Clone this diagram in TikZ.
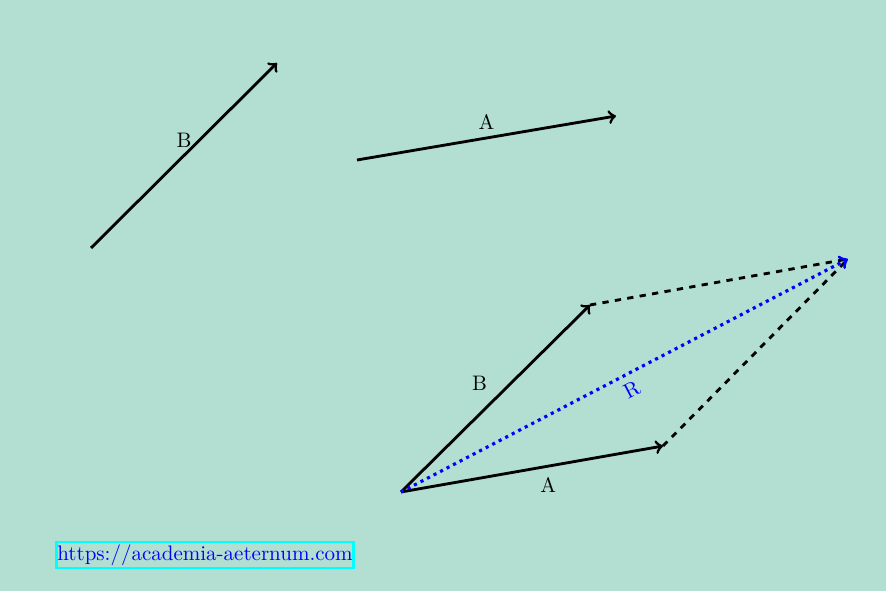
\documentclass[tikz,border=0pt]{standalone}
\begin{document}
\begin{tikzpicture}[x=0.4763pt,y=-0.4763pt,
  vec/.style={->,line width=1.35pt,black},
  dashline/.style={dashed,line width=1.35pt,black},
  res/.style={->,dotted,line width=1.5pt,blue}]
\definecolor{bgc}{RGB}{178,223,210}
\definecolor{boxcyan}{RGB}{0,255,255}
\definecolor{urlblue}{RGB}{0,0,255}
\fill[bgc] (0,0) rectangle (886,591);
\useasboundingbox (0,0) rectangle (886,591);
% top vectors
\coordinate (b0) at (91,248);
\coordinate (b1) at (277,63);
\coordinate (a0) at (357,160);
\coordinate (a1) at (616,116);
\draw[vec] (b0) -- node[above]{B} (b1);
\draw[vec] (a0) -- node[above]{A} (a1);
% parallelogram
\coordinate (o) at (401,492);
\coordinate (bb) at (590,305);
\coordinate (aa) at (663,446);
\coordinate (rr) at (848,259);
\draw[dashline] (bb) -- (rr);
\draw[dashline] (aa) -- (rr);
\draw[vec] (o) -- node[above left]{B} (bb);
\draw[vec] (o) -- node[below right]{A} (aa);
\draw[res] (o) -- node[sloped,below]{R} (rr);
\node[draw=boxcyan,line width=1.2pt,text=urlblue,inner xsep=0.3pt,inner ysep=1.2pt] (url) at (205,555) {https://academia-aeternum.com};
\end{tikzpicture}
\end{document}
